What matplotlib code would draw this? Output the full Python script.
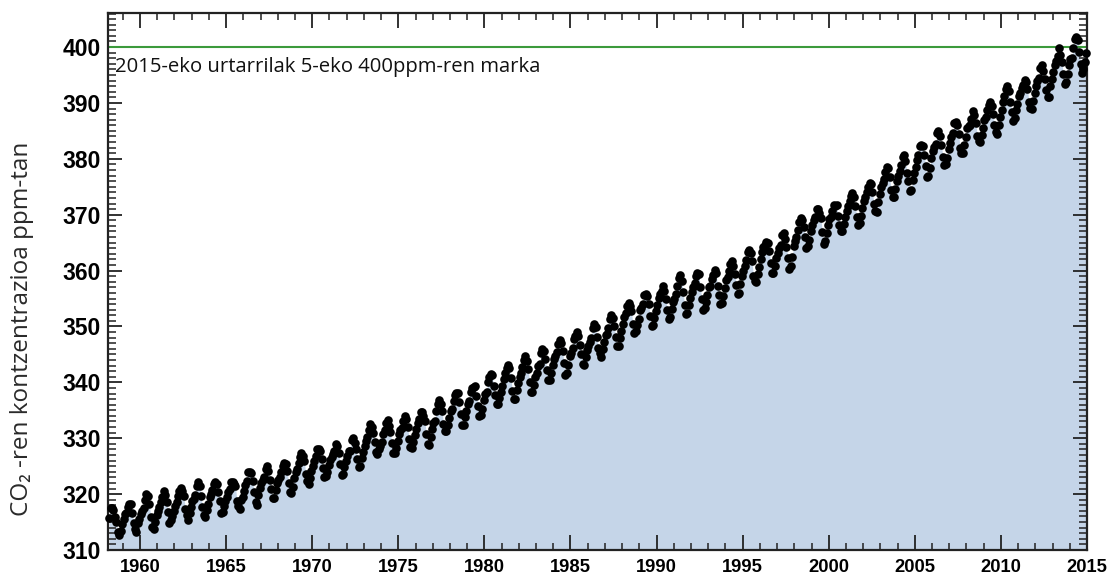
import numpy as np
import matplotlib
matplotlib.use("Agg")
import matplotlib.pyplot as plt
from matplotlib.ticker import MultipleLocator

# Monthly mean CO2 (ppm), Mauna Loa, starting March 1958
start_year = 1958
start_month = 3

co2_1950s = [
    315.71, 317.45, 317.50, 317.10, 315.86, 314.93, 313.20, 312.66, 313.33, 314.67,
    315.62, 316.38, 316.71, 317.72, 318.29, 318.15, 316.54, 314.80, 313.84, 313.26, 314.80, 315.58,
]
co2_1960s = [
    316.43, 316.97, 317.58, 319.02, 320.03, 319.59, 318.18, 315.91, 314.16, 313.83, 315.00, 316.19,
    316.93, 317.70, 318.54, 319.48, 320.58, 319.77, 318.57, 316.79, 314.80, 315.38, 316.10, 317.01,
    317.94, 318.56, 319.68, 320.63, 321.01, 320.55, 319.58, 317.40, 316.26, 315.42, 316.69, 317.69,
    318.74, 319.08, 319.86, 321.39, 322.25, 321.47, 319.74, 317.77, 316.21, 315.99, 317.12, 318.31,
    319.57, 320.07, 320.73, 321.77, 322.25, 321.89, 320.44, 318.70, 316.70, 316.79, 317.79, 318.71,
    319.44, 320.44, 320.89, 322.13, 322.16, 321.87, 321.39, 318.81, 317.81, 317.30, 318.87, 319.42,
    320.62, 321.59, 322.39, 323.87, 324.01, 323.75, 322.39, 320.37, 318.64, 318.10, 319.79, 321.08,
    322.07, 322.50, 323.04, 324.42, 325.00, 324.09, 322.55, 320.92, 319.31, 319.31, 320.72, 321.96,
    322.57, 323.15, 323.89, 325.02, 325.57, 325.36, 324.14, 322.03, 320.41, 320.25, 321.31, 322.84,
    324.00, 324.42, 325.64, 326.66, 327.34, 326.76, 325.88, 323.67, 322.38, 321.78, 322.85, 324.11,
]
co2_1970s = [
    325.03, 325.99, 326.87, 328.13, 328.07, 327.66, 326.35, 324.69, 323.10, 323.16, 323.98, 325.13,
    326.17, 326.68, 327.18, 327.78, 328.92, 328.57, 327.34, 325.46, 323.36, 323.57, 324.80, 326.01,
    326.77, 327.63, 327.75, 329.72, 330.07, 329.09, 328.05, 326.32, 324.93, 325.06, 326.50, 327.55,
    328.54, 329.56, 330.30, 331.50, 332.48, 332.07, 330.87, 329.31, 327.51, 327.18, 328.16, 328.64,
    329.35, 330.71, 331.48, 332.65, 333.20, 332.16, 331.07, 329.12, 327.32, 327.28, 328.30, 329.58,
    330.73, 331.46, 331.90, 333.17, 333.94, 333.45, 331.97, 329.95, 328.50, 328.34, 329.37, 330.58,
    331.59, 332.75, 333.52, 334.64, 334.77, 334.00, 333.06, 330.68, 328.95, 328.75, 330.15, 331.62,
    332.66, 333.13, 334.95, 336.13, 336.93, 336.17, 334.88, 332.56, 331.29, 331.27, 332.41, 333.60,
    334.95, 335.25, 336.66, 337.69, 338.03, 338.01, 336.41, 334.41, 332.37, 332.41, 333.75, 334.90,
    336.14, 336.69, 338.27, 338.95, 339.21, 339.26, 337.54, 335.75, 333.98, 334.19, 335.31, 336.81,
]
co2_1980s = [
    337.90, 338.34, 340.01, 340.93, 341.48, 341.33, 339.40, 337.70, 336.19, 336.15, 337.27, 338.32,
    339.29, 340.55, 341.61, 342.53, 343.03, 342.54, 340.78, 338.44, 336.95, 337.08, 338.58, 339.88,
    340.96, 341.73, 342.81, 343.97, 344.63, 343.79, 342.32, 340.09, 338.28, 338.29, 339.60, 340.90,
    341.68, 342.90, 343.33, 345.25, 346.03, 345.63, 344.19, 342.27, 340.35, 340.38, 341.59, 343.05,
    344.10, 344.79, 345.52, 346.84, 347.63, 346.98, 345.53, 343.55, 341.40, 341.67, 343.10, 344.70,
    345.21, 346.16, 347.74, 348.34, 349.06, 348.38, 346.72, 345.02, 343.27, 343.13, 344.49, 345.88,
    346.56, 347.28, 348.01, 349.77, 350.38, 349.93, 348.16, 346.08, 345.22, 344.51, 345.93, 347.22,
    348.52, 348.73, 349.73, 351.31, 352.09, 351.53, 350.11, 348.08, 346.52, 346.59, 347.96, 349.16,
    350.39, 351.64, 352.40, 353.69, 354.21, 353.72, 352.69, 350.40, 348.92, 349.13, 350.20, 351.41,
    352.91, 353.27, 353.96, 355.64, 355.86, 355.37, 353.99, 351.81, 350.05, 350.25, 351.49, 352.85,
]
co2_1990s = [
    353.80, 355.04, 355.73, 356.32, 357.32, 356.34, 354.84, 353.01, 351.31, 351.62, 353.07, 354.33,
    354.84, 355.73, 357.23, 358.66, 359.13, 358.13, 356.19, 353.85, 352.25, 352.35, 353.81, 355.12,
    356.25, 357.11, 357.86, 359.09, 359.59, 359.33, 357.01, 354.94, 352.96, 353.32, 354.32, 355.57,
    357.00, 357.31, 358.47, 359.27, 360.19, 359.52, 357.33, 355.64, 354.03, 354.12, 355.41, 356.91,
    358.24, 358.92, 359.99, 361.23, 361.65, 360.81, 359.38, 357.46, 355.73, 356.07, 357.53, 358.98,
    359.92, 360.86, 361.83, 363.30, 363.69, 363.19, 361.64, 359.12, 358.17, 357.99, 359.45, 360.68,
    362.07, 363.24, 364.17, 364.57, 365.13, 364.92, 363.55, 361.38, 359.54, 359.58, 360.89, 362.24,
    363.09, 364.03, 364.51, 366.35, 366.64, 365.59, 364.31, 362.25, 360.29, 360.82, 362.49, 364.38,
    365.26, 365.98, 367.24, 368.66, 369.42, 368.99, 367.82, 365.95, 364.02, 364.40, 365.52, 367.13,
    368.18, 369.07, 369.68, 370.99, 370.96, 370.30, 369.45, 366.90, 364.81, 365.37, 366.72, 368.10,
]
co2_2000s = [
    369.29, 369.55, 370.60, 371.82, 371.58, 371.70, 369.86, 368.13, 367.00, 367.03, 368.37, 369.67,
    370.59, 371.51, 372.43, 373.37, 373.85, 373.22, 371.51, 369.61, 368.18, 368.45, 369.76, 371.24,
    372.53, 373.20, 374.12, 375.02, 375.76, 375.52, 374.01, 371.85, 370.75, 370.55, 372.25, 373.79,
    374.88, 375.64, 376.45, 377.73, 378.60, 378.28, 376.70, 374.38, 373.17, 373.15, 374.66, 375.99,
    377.00, 377.87, 378.88, 380.35, 380.62, 379.69, 377.47, 376.01, 374.25, 374.46, 376.16, 377.51,
    378.46, 379.73, 380.77, 382.29, 382.45, 382.21, 380.74, 378.74, 376.70, 377.00, 378.35, 380.11,
    381.38, 382.19, 382.67, 384.61, 385.03, 384.05, 382.46, 380.41, 378.85, 379.13, 380.15, 381.82,
    382.89, 383.90, 384.58, 386.50, 386.56, 386.10, 384.50, 381.99, 380.96, 381.12, 382.45, 383.95,
    385.52, 385.82, 386.03, 387.21, 388.54, 387.76, 386.36, 384.09, 383.18, 382.99, 384.19, 385.56,
    386.94, 387.48, 388.82, 389.55, 390.14, 389.48, 388.03, 386.11, 384.74, 384.43, 386.02, 387.42,
]
co2_2010s = [
    388.71, 390.20, 391.17, 392.46, 393.00, 392.15, 390.20, 388.35, 386.85, 387.24, 388.67, 389.79,
    391.33, 391.86, 392.60, 393.25, 394.19, 393.74, 392.51, 390.13, 389.08, 389.00, 390.28, 391.86,
    393.12, 393.86, 394.40, 396.18, 396.74, 395.71, 394.36, 392.39, 391.11, 391.05, 392.98, 394.34,
    395.55, 396.80, 397.43, 398.41, 399.78, 398.61, 397.32, 395.20, 393.45, 393.70, 395.16, 396.84,
    397.85, 398.01, 399.77, 401.38, 401.78, 401.25, 399.10, 397.03, 395.38, 396.03, 397.28, 398.91,
]

mark_value = 400
mark_text = "2015-eko urtarrilak 5-eko 400ppm-ren marka"
ylabel_text = "CO\u2082 -ren kontzentrazioa ppm-tan"
xticks = [1960, 1965, 1970, 1975, 1980, 1985, 1990, 1995, 2000, 2005, 2010, 2015]
yticks = [310, 320, 330, 340, 350, 360, 370, 380, 390, 400]

co2 = np.array(co2_1950s + co2_1960s + co2_1970s + co2_1980s + co2_1990s + co2_2000s + co2_2010s)
idx = np.arange(len(co2)) + (start_month - 1)
t = start_year + (idx + 0.5) / 12.0

fig = plt.figure(figsize=(11.09, 5.79), dpi=100)
ax = fig.add_axes([108 / 1109, 1 - 550 / 579, (1087 - 108) / 1109, (550 - 13) / 579])

ax.set_xlim(1958.14, 2015.0)
ax.set_ylim(310, 406.1)

ax.fill_between(t, co2, 310, color="#c5d5e8", linewidth=0, zorder=1)
ax.axhline(mark_value, color="#3c9a3c", linewidth=1.5, zorder=2)
ax.plot(t, co2, linestyle="none", marker="o", markersize=6.2, color="black",
        markeredgewidth=0, zorder=3, clip_on=False)

ax.text(1958.55, 395.5, mark_text, fontsize=14.6, family=["Open Sans", "DejaVu Sans"],
        color="#111111", va="baseline", ha="left", zorder=4)

ax.xaxis.set_major_locator(MultipleLocator(5))
ax.xaxis.set_minor_locator(MultipleLocator(1))
ax.yaxis.set_major_locator(MultipleLocator(10))
ax.yaxis.set_minor_locator(MultipleLocator(1))
ax.set_xticks(xticks)
ax.set_yticks(yticks)
ax.tick_params(which="both", direction="in", top=True, right=True, color="#222222")
ax.tick_params(axis="x", which="major", length=11, width=1.3)
ax.tick_params(axis="x", which="minor", length=5, width=1.1)
ax.tick_params(axis="y", which="major", length=10, width=1.3)
ax.tick_params(axis="y", which="minor", length=6, width=1.1)
for lab in ax.get_xticklabels():
    lab.set_fontfamily("Liberation Sans")
    lab.set_fontweight("bold")
    lab.set_fontsize(13.2)
for lab in ax.get_yticklabels():
    lab.set_fontfamily("Liberation Sans")
    lab.set_fontweight("bold")
    lab.set_fontsize(16.5)
ax.tick_params(axis="x", pad=6.5)
ax.tick_params(axis="y", pad=5)

for s in ax.spines.values():
    s.set_linewidth(1.6)
    s.set_color("#222222")

fig.text(22 / 1109, 1 - 329 / 579, ylabel_text, rotation=90, fontsize=17.5,
         family=["Open Sans", "DejaVu Sans"], color="#2a2a2a", ha="center", va="center")

fig.savefig("out.png", dpi=100, facecolor="white")
